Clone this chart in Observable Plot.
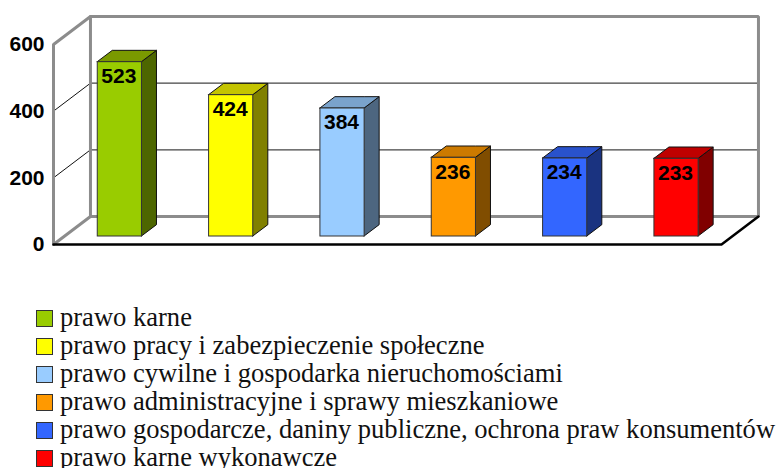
<!DOCTYPE html>
<html>
<head>
<meta charset="utf-8">
<script src="https://cdn.jsdelivr.net/npm/d3@7"></script>
<script src="https://cdn.jsdelivr.net/npm/@observablehq/plot@0.6"></script>
<style>
html,body{margin:0;padding:0;background:#fff;width:778px;height:468px;overflow:hidden}
svg{display:block}
#legend{position:absolute;left:36px;top:303px;font:26.55px/28px "Liberation Serif",serif;color:#111;white-space:nowrap}
#legend div{height:28px;display:flex;align-items:center}
#legend i{display:inline-block;box-sizing:border-box;width:17px;height:17px;border:1px solid #333;margin-right:7px;position:relative;top:1px}
</style>
</head>
<body>
<div id="chart"></div>
<div id="legend"></div>
<script>
const categories = [
  "prawo karne",
  "prawo pracy i zabezpieczenie społeczne",
  "prawo cywilne i gospodarka nieruchomościami",
  "prawo administracyjne i sprawy mieszkaniowe",
  "prawo gospodarcze, daniny publiczne, ochrona praw konsumentów",
  "prawo karne wykonawcze"
];
const values = [523, 424, 384, 236, 234, 233];
const frontColors = ["#99cc00", "#ffff00", "#99ccff", "#ff9900", "#3366ff", "#ff0000"];
const topColors = ["#7a9900", "#c4c400", "#7aa3cc", "#cc7a00", "#2952cc", "#bf0000"];
const sideColors = ["#4d6600", "#808000", "#4d6680", "#804d00", "#1a3380", "#800000"];
const gridValues = [200, 400];
const tickValues = [0, 200, 400, 600];

// pseudo-3D depth, in data units
const wallDx = 0.332, wallDy = 84;
const barOffX = 0.096, barOffY = 24, barW = 0.397, barDx = 0.135, barDy = 34;

const bars = values.map((v, i) => {
  const l = i + 0.5 - barW / 2 + barOffX, r = l + barW;
  return {i, v, l, r, b: barOffY, t: v + barOffY, front: frontColors[i], top: topColors[i], side: sideColors[i]};
});
const sideFaces = bars.flatMap(d => [
  {i: d.i, fill: d.side, x: d.r, y1: d.b, y2: d.t},
  {i: d.i, fill: d.side, x: d.r + barDx, y1: d.b + barDy, y2: d.t + barDy}
]);
const topFaces = bars.flatMap(d => [
  {i: d.i, fill: d.top, x: d.l, y1: d.t, y2: d.t},
  {i: d.i, fill: d.top, x: d.l + barDx, y1: d.t, y2: d.t + barDy},
  {i: d.i, fill: d.top, x: d.r, y1: d.t, y2: d.t + barDy},
  {i: d.i, fill: d.top, x: d.r + barDx, y1: d.t + barDy, y2: d.t + barDy}
]);

const wallLines = [
  [[0, 0], [0, 600], [wallDx, 600 + wallDy], [6 + wallDx, 600 + wallDy], [6 + wallDx, wallDy], [wallDx, wallDy], [0, 0]],
  [[wallDx, wallDy], [wallDx, 600 + wallDy]]
].flatMap((seg, k) => seg.map(p => ({k, x: p[0], y: p[1]})));
const gridBack = gridValues.flatMap(v => [{v, x: wallDx, y: v + wallDy}, {v, x: 6 + wallDx, y: v + wallDy}]);
const gridSide = gridValues.flatMap(v => [{v, x: 0, y: v}, {v, x: wallDx, y: v + wallDy}]);
const floorFront = [{x: 0, y: 0}, {x: 6, y: 0}, {x: 6 + wallDx, y: wallDy}];

const chart = Plot.plot({
  width: 778, height: 300,
  marginLeft: 53, marginRight: 57, marginTop: 44, marginBottom: 56,
  x: {domain: [0, 6], axis: null},
  y: {domain: [0, 600], axis: null},
  style: {background: "#fff", fontFamily: "'Liberation Sans',Arial,sans-serif"},
  marks: [
    Plot.line(gridBack, {x: "x", y: "y", z: "v", stroke: "#444", strokeWidth: 1.2}),
    Plot.line(gridSide, {x: "x", y: "y", z: "v", stroke: "#111", strokeWidth: 1}),
    Plot.line(wallLines, {x: "x", y: "y", z: "k", stroke: "#8c8c8c", strokeWidth: 3, strokeLinejoin: "miter"}),
    Plot.line(floorFront, {x: "x", y: "y", stroke: "#000", strokeWidth: 2.5}),
    Plot.areaY(sideFaces, {x: "x", y1: "y1", y2: "y2", z: "i", fill: "fill", stroke: "#111", strokeWidth: 1, curve: "linear"}),
    Plot.areaY(topFaces, {x: "x", y1: "y1", y2: "y2", z: "i", fill: "fill", stroke: "#111", strokeWidth: 1, curve: "linear"}),
    Plot.rect(bars, {x1: "l", x2: "r", y1: "b", y2: "t", fill: "front", stroke: "#333", strokeWidth: 1}),
    Plot.text(bars, {x: d => (d.l + d.r) / 2, y: "t", text: "v", dy: 14, dx: -1, fontSize: 21, fontWeight: "bold", fill: "#000"}),
    Plot.axisY({ticks: tickValues, tickSize: 0, tickPadding: 9, label: null, fontSize: 21, fontWeight: "bold", fill: "#000", tickFormat: d => String(d)})
  ]
});
document.getElementById("chart").appendChild(chart);

const legend = d3.select("#legend");
categories.forEach((c, i) => {
  const row = legend.append("div");
  row.append("i").style("background", frontColors[i]);
  row.append("span").text(c);
});
</script>
</body>
</html>
